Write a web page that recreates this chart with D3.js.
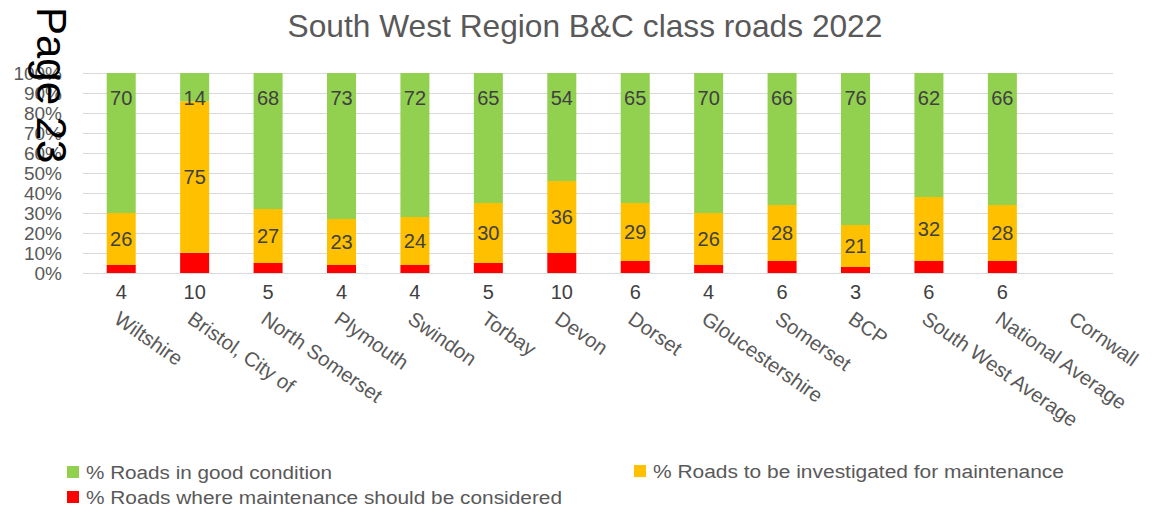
<!DOCTYPE html>
<html><head><meta charset="utf-8">
<script src="https://cdn.jsdelivr.net/npm/d3@7/dist/d3.min.js"></script>
<style>body{margin:0;background:#fff}svg{display:block}text{font-family:"Liberation Sans",Arial,sans-serif}</style>
</head><body>
<svg id="c" width="1157" height="516"></svg>
<script>
const categories = ["Wiltshire","Bristol, City of","North Somerset","Plymouth","Swindon","Torbay","Devon","Dorset","Gloucestershire","Somerset","BCP","South West Average","National Average","Cornwall"];
const redValues = [4,10,5,4,4,5,10,6,4,6,3,6,6,null];
const orangeValues = [26,75,27,23,24,30,36,29,26,28,21,32,28,null];
const greenValues = [70,14,68,73,72,65,54,65,70,66,76,62,66,null];
const yTicks = [0,0.1,0.2,0.3,0.4,0.5,0.6,0.7,0.8,0.9,1];
const seriesNames = ["% Roads in good condition","% Roads to be investigated for maintenance","% Roads where maintenance should be considered"];
const colors = {green:"#92D050", orange:"#FFC000", red:"#FF0000"};
const title = "South West Region B&C class roads 2022";

const svg = d3.select("#c");
const x = d3.scaleBand().domain(categories).range([84.5,1112.5]).padding(0);
const y = d3.scaleLinear().domain([0,1]).range([273,73]);
const barW = x.bandwidth()*0.395;

// title
svg.append("text").attr("x",585).attr("y",37).attr("text-anchor","middle")
  .attr("font-size",31.7).attr("fill","#595959").text(title);

// gridlines
svg.append("g").selectAll("line").data(yTicks).join("line")
  .attr("x1",83).attr("x2",1113).attr("y1",d=>Math.round(y(d))+0.5).attr("y2",d=>Math.round(y(d))+0.5)
  .attr("stroke","#d9d9d9").attr("stroke-width",1);

// y axis labels
svg.append("g").selectAll("text").data(yTicks).join("text")
  .attr("x",62).attr("y",d=>y(d)+7).attr("text-anchor","end")
  .attr("font-size",19).attr("fill","#595959").text(d=>d3.format(".0%")(d));

// stacked data
const rows = categories.map((c,i)=>({cat:c, red:redValues[i], orange:orangeValues[i], green:greenValues[i]}))
  .filter(d=>d.red!=null);
const keys = ["red","orange","green"];
const stack = d3.stack().keys(keys).offset(d3.stackOffsetExpand);
const layers = stack(rows);

const gBars = svg.append("g");
layers.forEach(layer=>{
  gBars.append("g").attr("fill",colors[layer.key]).selectAll("rect").data(layer).join("rect")
    .attr("x",d=>x(d.data.cat)+x.bandwidth()/2-barW/2).attr("width",barW)
    .attr("y",d=>y(d[1])).attr("height",d=>y(d[0])-y(d[1]));
});

// labels
const lab = svg.append("g").attr("font-size",20).attr("fill","#404040").attr("text-anchor","middle");
layers.forEach(layer=>{
  lab.append("g").selectAll("text").data(layer).join("text")
    .attr("x",d=>x(d.data.cat)+x.bandwidth()/2)
    .attr("y",d=>{
      if(layer.key==="green") return y(d[1])+25+7;
      if(layer.key==="orange") return (y(d[0])+y(d[1]))/2+7;
      return 299;
    })
    .text(d=>d.data[layer.key]);
});

// x labels
svg.append("g").selectAll("text").data(categories).join("text")
  .attr("transform",d=>`translate(${x(d)+x.bandwidth()/2},310) rotate(35)`)
  .attr("dy","0.72em").attr("font-size",20.3).attr("fill","#595959").text(d=>d);

// page text
svg.append("text").attr("transform","translate(37,7) rotate(90)")
  .attr("font-size",42).attr("fill","#000").text("Page 23");

// legend
const legend = [
  {name:seriesNames[0], color:colors.green, x:67, y:466, w:246},
  {name:seriesNames[1], color:colors.orange, x:634, y:465, w:411},
  {name:seriesNames[2], color:colors.red, x:67, y:491, w:476}
];
const lg = svg.append("g");
legend.forEach(l=>{
  lg.append("rect").attr("x",l.x).attr("y",l.y).attr("width",12).attr("height",12).attr("fill",l.color);
  lg.append("text").attr("x",l.x+19).attr("y",l.y+12.5).attr("font-size",18).attr("fill","#595959")
    .attr("textLength",l.w).attr("lengthAdjust","spacingAndGlyphs").text(l.name);
});
</script>
</body></html>
